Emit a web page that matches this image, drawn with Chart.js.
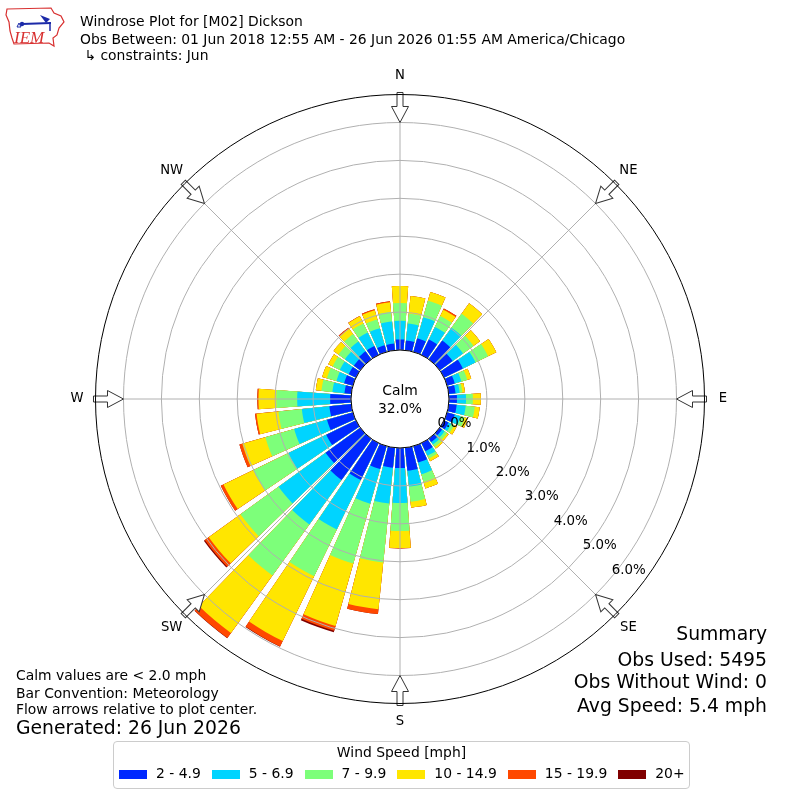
<!DOCTYPE html>
<html>
<head>
<meta charset="utf-8">
<title>Windrose Plot for [M02] Dickson</title>
<script src="https://cdn.jsdelivr.net/npm/chart.js@4.4.1/dist/chart.umd.min.js"></script>
<style>
  html, body { margin: 0; padding: 0; background: #fff; }
  #wrap { position: relative; width: 800px; height: 800px; overflow: hidden; font-family: 'DejaVu Sans', sans-serif; color: #000; }
  #wrap canvas { position: absolute; left: 0; top: 0; }
  .txt { position: absolute; white-space: pre; line-height: 1; }
  .s14 { font-size: 13.9px; }
  .s19 { font-size: 18.8px; }
  .right { right: 33px; text-align: right; }
  #legend { position: absolute; left: 113px; top: 741px; width: 575px; height: 46px; border: 1px solid #cccccc; border-radius: 4px; background: #fff; }
  #legend .title { position: absolute; left: 0; right: 0; top: 3.5px; text-align: center; font-size: 13.9px; line-height: 1; white-space: nowrap; }
  #legend .row { position: absolute; left: 5px; top: 25.2px; display: flex; align-items: flex-start; font-size: 13.9px; line-height: 1; white-space: nowrap; }
  #legend .sw { flex: 0 0 28px; width: 28px; height: 9.5px; margin-top: 2.8px; margin-right: 9px; }
  #legend .lab { flex: 0 0 auto; margin-right: 11px; }
  .logo { position: absolute; left: 0; top: 0; }
</style>
</head>
<body>
<div id="wrap">
  <canvas id="rose" width="800" height="800"></canvas>

  <svg class="logo" width="70" height="52" viewBox="0 0 70 52">
    <path d="M7,9 L51,8 L54,13 L61,16 L64,22 L59,28 L57,35 L53,38 L54,46 L49,43 L14,44 L12,38 L10,31 L9,22 L6,15 Z" fill="none" stroke="#d83030" stroke-width="1.2"/>
    <line x1="22" y1="24" x2="51" y2="23" stroke="#1c2aa8" stroke-width="2"/>
    <circle cx="22" cy="24" r="2.2" fill="#1c2aa8"/>
    <path d="M40,15 L50,19 L46,23 Z" fill="#1c2aa8"/>
    <line x1="50" y1="22" x2="50" y2="31" stroke="#1c2aa8" stroke-width="1.5"/>
    <path d="M17,27 L19,23 L21,27 Z" fill="none" stroke="#1c2aa8" stroke-width="1"/>
    <text x="14" y="43" font-family="'Liberation Serif', 'DejaVu Serif', serif" font-style="italic" font-size="17" fill="#d83030">IEM</text>
  </svg>

  <div class="txt s14" style="left:80px; top:14.7px;">Windrose Plot for [M02] Dickson</div>
  <div class="txt s14" style="left:80px; top:32.5px;">Obs Between: 01 Jun 2018 12:55 AM - 26 Jun 2026 01:55 AM America/Chicago</div>
  <div class="txt s14" style="left:80px; top:49.2px;"> ↳ constraints: Jun</div>

  <div class="txt s19 right" style="top:625.1px;">Summary</div>
  <div class="txt s19 right" style="top:650.8px;" id="obsUsed"></div>
  <div class="txt s19 right" style="top:673.4px;" id="obsNoWind"></div>
  <div class="txt s19 right" style="top:696.8px;" id="avgSpeed"></div>

  <div class="txt s14" style="left:16px; top:669.2px;">Calm values are &lt; 2.0 mph</div>
  <div class="txt s14" style="left:16px; top:686.9px;">Bar Convention: Meteorology</div>
  <div class="txt s14" style="left:16px; top:703.2px;">Flow arrows relative to plot center.</div>
  <div class="txt s19" style="left:16px; top:719.1px;">Generated: 26 Jun 2026</div>

  <div id="legend">
    <div class="title">Wind Speed [mph]</div>
    <div class="row" id="legendRow"></div>
  </div>
</div>

<script>
// bar directions (degrees, meteorological: where the wind blows from)
const dirDegrees = [0, 10, 20, 30, 40, 50, 60, 70, 80, 90, 100, 110,
  120, 130, 140, 150, 160, 170, 180, 190, 200, 210, 220, 230,
  240, 250, 260, 270, 280, 290, 300, 310, 320, 330, 340, 350];

const speedBins = ['2 - 4.9', '5 - 6.9', '7 - 9.9', '10 - 14.9', '15 - 19.9', '20+'];
const binColors = ['#0028ff', '#00d4ff', '#7dff7a', '#ffe600', '#ff4800', '#800000'];

// frequency (% of obs) for each speed bin, one value per direction
const freq2to5 = [0.28, 0.26, 0.37, 0.45, 0.61, 0.42, 0.55, 0.21, 0.18, 0.21, 0.21, 0.21,
  0.13, 0.08, 0.11, 0.24, 0.45, 0.61, 0.53, 0.53, 0.63, 1.08, 1.34, 1.13,
  0.87, 0.71, 0.58, 0.55, 0.18, 0.24, 0.21, 0.21, 0.26, 0.26, 0.18, 0.18];
const freq5to7 = [0.49, 0.45, 0.58, 0.37, 0.42, 0.34, 0.37, 0.18, 0.11, 0.24, 0.24, 0.16,
  0.08, 0.08, 0.08, 0.13, 0.32, 0.42, 0.92, 0.95, 0.95, 1.45, 1.45, 1.53,
  1.11, 0.90, 0.73, 0.87, 0.32, 0.21, 0.26, 0.29, 0.32, 0.40, 0.47, 0.58];
const freq7to10 = [0.47, 0.26, 0.45, 0.32, 0.45, 0.34, 0.37, 0.16, 0.07, 0.18, 0.24, 0.11,
  0.08, 0.08, 0.08, 0.08, 0.21, 0.40, 0.74, 1.56, 1.64, 1.37, 1.66, 1.24,
  1.03, 0.79, 0.62, 0.55, 0.29, 0.26, 0.21, 0.21, 0.24, 0.26, 0.24, 0.26];
const freq10to15 = [0.45, 0.47, 0.24, 0.18, 0.34, 0.21, 0.24, 0.11, 0.07, 0.21, 0.13, 0.08,
  0.08, 0.05, 0.05, 0.08, 0.18, 0.16, 0.45, 1.24, 1.71, 1.90, 1.87, 1.03,
  0.87, 0.63, 0.58, 0.47, 0.15, 0.13, 0.13, 0.16, 0.18, 0.21, 0.25, 0.25];
const freq15to20 = [0, 0, 0, 0.04, 0, 0, 0, 0, 0, 0, 0, 0,
  0, 0, 0, 0, 0, 0, 0.01, 0.13, 0.13, 0.16, 0.16, 0.13,
  0.08, 0.08, 0.04, 0.03, 0, 0, 0, 0, 0.03, 0.01, 0.03, 0.03];
const freq20up = [0, 0, 0, 0, 0, 0, 0, 0, 0, 0, 0, 0,
  0, 0, 0, 0, 0, 0, 0, 0, 0.04, 0.01, 0.01, 0.03,
  0, 0, 0, 0, 0, 0, 0, 0, 0, 0, 0, 0];
const binSeries = [freq2to5, freq5to7, freq7to10, freq10to15, freq15to20, freq20up];

const tickValues = [0, 1, 2, 3, 4, 5, 6];
const compassLabels = ['N', 'NE', 'E', 'SE', 'S', 'SW', 'W', 'NW'];
const calmPct = 32.0;
const obsUsed = 5495;
const obsWithoutWind = 0;
const avgSpeed = 5.4;

// layout constants
const barAngle = 8.3;
const gapAngle = 10 - barAngle;
const rMin = -1.292;
const rMax = 6.725;
const labelAngle = 130;
const FONT = '"DejaVu Sans", sans-serif';

document.getElementById('obsUsed').textContent = 'Obs Used: ' + obsUsed;
document.getElementById('obsNoWind').textContent = 'Obs Without Wind: ' + obsWithoutWind;
document.getElementById('avgSpeed').textContent = 'Avg Speed: ' + avgSpeed.toFixed(1) + ' mph';

const legendRow = document.getElementById('legendRow');
speedBins.forEach((bin, i) => {
  const sw = document.createElement('span');
  sw.className = 'sw';
  sw.style.background = binColors[i];
  const lab = document.createElement('span');
  lab.className = 'lab';
  lab.textContent = bin;
  legendRow.appendChild(sw);
  legendRow.appendChild(lab);
});

// every direction gets a bar slice followed by an empty gap slice
const sliceLabels = [];
dirDegrees.forEach((deg) => {
  sliceLabels.push(deg + '°', '');
});

// stacked bars: dataset 0 (slowest) is drawn last, on top of the longer ones
const datasets = speedBins.map((bin, b) => {
  const data = [];
  const angles = [];
  const colors = [];
  dirDegrees.forEach((deg, d) => {
    let cum = 0;
    for (let k = 0; k <= b; k++) cum += binSeries[k][d];
    data.push(cum, 0);
    angles.push(barAngle, gapAngle);
    colors.push(binColors[b], 'rgba(0,0,0,0)');
  });
  return {
    label: bin,
    data: data,
    angle: angles,
    backgroundColor: colors,
    borderWidth: 0,
  };
});

const windroseDecor = {
  id: 'windroseDecor',
  afterDraw(chart) {
    const ctx = chart.ctx;
    const s = chart.scales.r;
    const cx = s.xCenter;
    const cy = s.yCenter;
    const calmR = s.getDistanceFromCenterForValue(0);
    const outerR = s.drawingArea;
    const tipR = s.getDistanceFromCenterForValue(6);
    const pt = (deg, r) => [
      cx + r * Math.sin((deg * Math.PI) / 180),
      cy - r * Math.cos((deg * Math.PI) / 180),
    ];

    ctx.save();
    // direction lines
    ctx.strokeStyle = '#b0b0b0';
    ctx.lineWidth = 1;
    compassLabels.forEach((lab, i) => {
      const [x, y] = pt(i * 45, outerR);
      ctx.beginPath();
      ctx.moveTo(cx, cy);
      ctx.lineTo(x, y);
      ctx.stroke();
    });

    // calm circle
    ctx.beginPath();
    ctx.arc(cx, cy, calmR, 0, Math.PI * 2);
    ctx.fillStyle = '#fff';
    ctx.fill();
    ctx.strokeStyle = '#000';
    ctx.stroke();

    // flow arrows
    compassLabels.forEach((lab, i) => {
      ctx.save();
      ctx.translate(cx, cy);
      ctx.rotate((i * 45 * Math.PI) / 180);
      ctx.beginPath();
      ctx.moveTo(-3, -(tipR + 30));
      ctx.lineTo(-3, -(tipR + 16));
      ctx.lineTo(-8.5, -(tipR + 16));
      ctx.lineTo(0, -tipR);
      ctx.lineTo(8.5, -(tipR + 16));
      ctx.lineTo(3, -(tipR + 16));
      ctx.lineTo(3, -(tipR + 30));
      ctx.closePath();
      ctx.fillStyle = '#fff';
      ctx.fill();
      ctx.strokeStyle = '#333';
      ctx.lineWidth = 1;
      ctx.stroke();
      ctx.restore();
    });

    // outer frame
    ctx.beginPath();
    ctx.arc(cx, cy, outerR + 0.5, 0, Math.PI * 2);
    ctx.strokeStyle = '#000';
    ctx.lineWidth = 1;
    ctx.stroke();

    ctx.fillStyle = '#000';

    // compass labels
    ctx.font = '13.2px ' + FONT;
    ctx.textAlign = 'center';
    ctx.textBaseline = 'middle';
    compassLabels.forEach((lab, i) => {
      const [x, y] = pt(i * 45, outerR + 19);
      ctx.fillText(lab, x, y);
    });

    // calm text
    ctx.font = '13.9px ' + FONT;
    ctx.textBaseline = 'alphabetic';
    ctx.fillText('Calm', cx, cy - 4);
    ctx.fillText(calmPct.toFixed(1) + '%', cx, cy + 13.5);

    // radial tick labels
    ctx.font = '13.4px ' + FONT;
    ctx.textAlign = 'left';
    ctx.textBaseline = 'bottom';
    tickValues.forEach((v) => {
      const [x, y] = pt(labelAngle, s.getDistanceFromCenterForValue(v));
      ctx.fillText(v.toFixed(1) + '%', x, y);
    });
    ctx.restore();
  },
};

new Chart(document.getElementById('rose'), {
  type: 'polarArea',
  data: {
    labels: sliceLabels,
    datasets: datasets,
  },
  options: {
    responsive: false,
    animation: false,
    devicePixelRatio: 1,
    events: [],
    layout: {
      padding: { left: 96, right: 96, top: 95, bottom: 96 },
    },
    plugins: {
      legend: { display: false },
      tooltip: { enabled: false },
    },
    scales: {
      r: {
        min: rMin,
        max: rMax,
        startAngle: -barAngle / 2,
        afterBuildTicks: (axis) => {
          axis.ticks = tickValues.map((v) => ({ value: v }));
        },
        ticks: { display: false },
        grid: { color: '#b0b0b0', lineWidth: 1, circular: true, z: 1 },
        angleLines: { display: false },
        pointLabels: { display: false },
      },
    },
  },
  plugins: [windroseDecor],
});
</script>
</body>
</html>
